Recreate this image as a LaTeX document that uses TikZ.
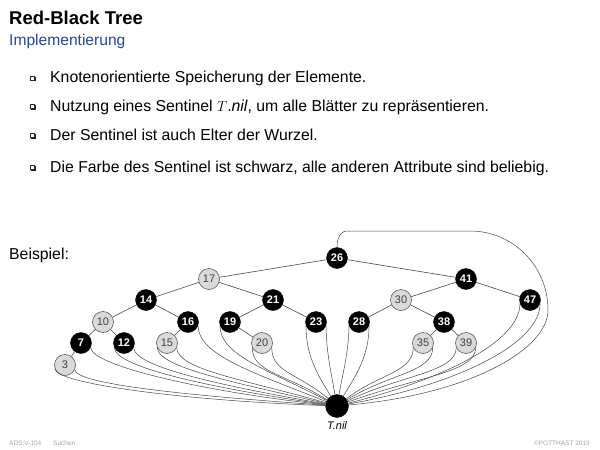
\documentclass[tikz,border=0pt]{standalone}
\usepackage{fontspec}
\setmainfont{Liberation Sans}
\definecolor{subc}{RGB}{45,65,150}
\definecolor{edgec}{RGB}{70,70,70}
\definecolor{lgray}{RGB}{218,218,218}
\definecolor{footc}{RGB}{165,165,165}
\tikzset{
  rb/.style={circle, minimum size=21pt, inner sep=0pt},
  rnode/.style={rb, fill=lgray, draw=edgec, line width=0.5pt, text=black!75, font=\fontsize{11}{11}\selectfont},
  bnode/.style={rb, fill=black, draw=black, text=white, font=\fontsize{11}{11}\selectfont\bfseries},
  nilnode/.style={circle, minimum size=23pt, inner sep=0pt, fill=black, draw=black},
  tedge/.style={draw=edgec, line width=0.6pt},
  niledge/.style={draw=edgec, line width=0.5pt},
  body/.style={anchor=base west, inner sep=0pt, font=\fontsize{15.8}{18}\selectfont},
  foot/.style={anchor=base west, inner sep=0pt, text=footc, font=\fontsize{6.5}{8}\selectfont},
}
\newcommand\sqbul[1]{%
  \draw[black!85, line width=0.4pt, fill=white] (30.5,#1-2) rectangle (34.5,#1+2);
  \draw[black!85, line width=0.8pt] (31.3,#1-2.4) -- (34.9,#1-2.4) -- (34.9,#1+1.3);}
\newcommand\nilE[4]{\draw[niledge] (#1) to[out=-90,in=#2,out distance=#3,in distance=#4] (nil);}
\begin{document}
\begin{tikzpicture}[x=1pt,y=1pt]
\useasboundingbox (0,0) rectangle (600,-450);
% header
\node[anchor=base west, inner sep=0pt, font=\fontsize{18.5}{20}\selectfont\bfseries] (title) at (9,-24) {Red-Black Tree};
\node[anchor=base west, inner sep=0pt, text=subc, font=\fontsize{15.6}{18}\selectfont] (subtitle) at (9,-45) {Implementierung};
% bullets
\sqbul{-78}
\sqbul{-106.5}
\sqbul{-135.5}
\sqbul{-167.5}
\node[body] (b1) at (50,-82.5) {Knotenorientierte Speicherung der Elemente.};
\node[body] (b2) at (50,-111) {Nutzung eines Sentinel $T$.\textit{nil}, um alle Blätter zu repräsentieren.};
\node[body] (b3) at (50,-140) {Der Sentinel ist auch Elter der Wurzel.};
\node[body] (b4) at (50,-172) {Die Farbe des Sentinel ist schwarz, alle anderen Attribute sind beliebig.};
\node[body] (bsp) at (9,-259) {Beispiel:};
% tree nodes
\node[bnode] (n26) at (337,-258) {26};
\node[rnode] (n17) at (209,-279) {17};
\node[bnode] (n41) at (466,-279) {41};
\node[bnode] (n14) at (146,-300) {14};
\node[bnode] (n21) at (273,-300) {21};
\node[rnode] (n30) at (401,-300) {30};
\node[bnode] (n47) at (530,-300) {47};
\node[rnode] (n10) at (103,-322) {10};
\node[bnode] (n16) at (188,-322) {16};
\node[bnode] (n19) at (230,-322) {19};
\node[bnode] (n23) at (316,-322) {23};
\node[bnode] (n28) at (359,-322) {28};
\node[bnode] (n38) at (444,-322) {38};
\node[bnode] (n7) at (81,-343) {7};
\node[bnode] (n12) at (124,-343) {12};
\node[rnode] (n15) at (167,-343) {15};
\node[rnode] (n20) at (262,-343) {20};
\node[rnode] (n35) at (423,-343) {35};
\node[rnode] (n39) at (466,-343) {39};
\node[rnode] (n3) at (65,-365) {3};
\node[nilnode] (nil) at (337,-406) {};
\node[inner sep=0pt, font=\fontsize{11}{12}\selectfont\itshape] (nillabel) at (337,-426) {T.nil};
% tree edges
\draw[tedge] (n26) -- (n17);
\draw[tedge] (n26) -- (n41);
\draw[tedge] (n17) -- (n14);
\draw[tedge] (n17) -- (n21);
\draw[tedge] (n41) -- (n30);
\draw[tedge] (n41) -- (n47);
\draw[tedge] (n14) -- (n10);
\draw[tedge] (n14) -- (n16);
\draw[tedge] (n21) -- (n19);
\draw[tedge] (n21) -- (n23);
\draw[tedge] (n30) -- (n28);
\draw[tedge] (n30) -- (n38);
\draw[tedge] (n10) -- (n7);
\draw[tedge] (n10) -- (n12);
\draw[tedge] (n16) -- (n15);
\draw[tedge] (n19) -- (n20);
\draw[tedge] (n38) -- (n35);
\draw[tedge] (n38) -- (n39);
\draw[tedge] (n7) -- (n3);
% sentinel edges
\nilE{n3.200}{178}{15}{140}
\nilE{n3.335}{176}{15}{130}
\nilE{n7.335}{174}{18}{120}
\nilE{n12.205}{172}{20}{110}
\nilE{n12.335}{170}{20}{100}
\nilE{n15.205}{167}{20}{90}
\nilE{n15.335}{164}{22}{85}
\nilE{n16.340}{158}{30}{75}
\nilE{n19.200}{152}{30}{65}
\nilE{n20.205}{148}{25}{50}
\nilE{n20.335}{140}{25}{40}
\nilE{n23.200}{122}{30}{25}
\nilE{n23.340}{100}{25}{20}
\nilE{n28.200}{80}{25}{20}
\nilE{n28.340}{58}{30}{25}
\nilE{n35.205}{38}{25}{40}
\nilE{n35.335}{32}{25}{50}
\nilE{n39.205}{26}{25}{60}
\nilE{n39.335}{20}{25}{75}
\nilE{n47.200}{14}{40}{90}
\nilE{n47.340}{10}{40}{110}
% root parent loop
\coordinate (lpA) at (347,-231);
\coordinate (lpB) at (470,-231);
\coordinate (lpC) at (548,-310);
\draw[niledge] (n26.north) to[out=90,in=180] (lpA) -- (lpB) to[out=0,in=90] (lpC) to[out=-90,in=5,out distance=40,in distance=120] (nil);
% footer
\node[foot] (f1) at (9,-445) {ADS:V-104};
\node[foot] (f2) at (53,-445) {Suchen};
\node[foot, anchor=base east] (f3) at (590,-445) {©POTTHAST 2019};
\end{tikzpicture}
\end{document}
